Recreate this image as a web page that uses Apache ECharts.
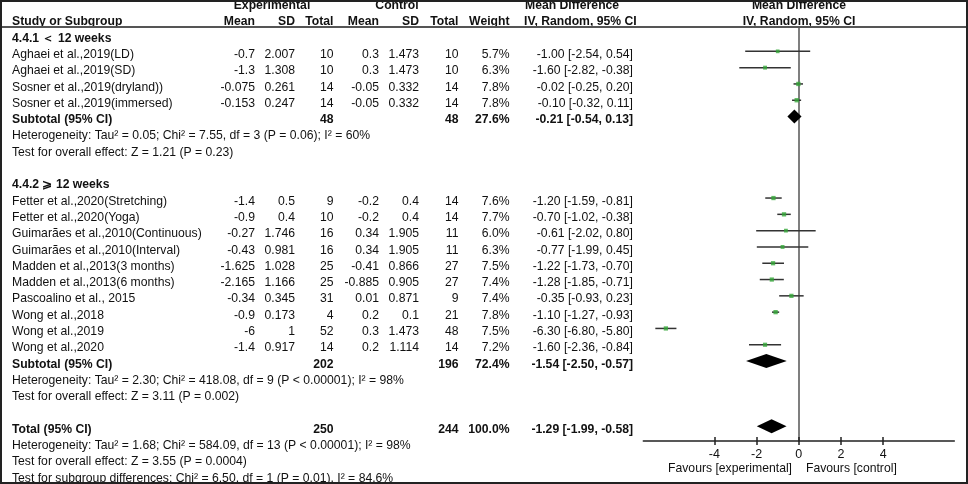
<!DOCTYPE html>
<html>
<head>
<meta charset="utf-8" />
<title>Forest plot</title>
<style>
    html, body { margin: 0; padding: 0; background: #fff; }
    #main { width: 968px; height: 484px; }
</style>
</head>
<body>
<div id="main"></div>
<script src="https://cdn.jsdelivr.net/npm/echarts@6/dist/echarts.min.js"></script>
<script type="text/javascript">
    // study data
    var studies = [
        'Aghaei et al.,2019(LD)', 'Aghaei et al.,2019(SD)', 'Sosner et al.,2019(dryland))', 'Sosner et al.,2019(immersed)',
        'Fetter et al.,2020(Stretching)', 'Fetter et al.,2020(Yoga)', 'Guimarães et al.,2010(Continuous)',
        'Guimarães et al.,2010(Interval)', 'Madden et al.,2013(3 months)', 'Madden et al.,2013(6 months)',
        'Pascoalino et al., 2015', 'Wong et al.,2018', 'Wong et al.,2019', 'Wong et al.,2020'
    ];
    var studyRows = [1, 2, 3, 4, 10, 11, 12, 13, 14, 15, 16, 17, 18, 19];
    var expMean = [-0.7, -1.3, -0.075, -0.153, -1.4, -0.9, -0.27, -0.43, -1.625, -2.165, -0.34, -0.9, -6, -1.4];
    var expSD = [2.007, 1.308, 0.261, 0.247, 0.5, 0.4, 1.746, 0.981, 1.028, 1.166, 0.345, 0.173, 1, 0.917];
    var expN = [10, 10, 14, 14, 9, 10, 16, 16, 25, 25, 31, 4, 52, 14];
    var ctlMean = [0.3, 0.3, -0.05, -0.05, -0.2, -0.2, 0.34, 0.34, -0.41, -0.885, 0.01, 0.2, 0.3, 0.2];
    var ctlSD = [1.473, 1.473, 0.332, 0.332, 0.4, 0.4, 1.905, 1.905, 0.866, 0.905, 0.871, 0.1, 1.473, 1.114];
    var ctlN = [10, 10, 14, 14, 14, 14, 11, 11, 27, 27, 9, 21, 48, 14];
    var weights = [5.7, 6.3, 7.8, 7.8, 7.6, 7.7, 6.0, 6.3, 7.5, 7.4, 7.4, 7.8, 7.5, 7.2];
    var md = [-1.00, -1.60, -0.02, -0.10, -1.20, -0.70, -0.61, -0.77, -1.22, -1.28, -0.35, -1.10, -6.30, -1.60];
    var ciLo = [-2.54, -2.82, -0.25, -0.32, -1.59, -1.02, -2.02, -1.99, -1.73, -1.85, -0.93, -1.27, -6.80, -2.36];
    var ciHi = [0.54, -0.38, 0.20, 0.11, -0.81, -0.38, 0.80, 0.45, -0.70, -0.71, 0.23, -0.93, -5.80, -0.84];

    // pooled rows
    var sumNames = ['Subtotal (95% CI)', 'Subtotal (95% CI)', 'Total (95% CI)'];
    var sumRows = [5, 20, 24];
    var sumExpN = [48, 202, 250];
    var sumCtlN = [48, 196, 244];
    var sumWeight = [27.6, 72.4, 100.0];
    var sumMd = [-0.21, -1.54, -1.29];
    var sumLo = [-0.54, -2.50, -1.99];
    var sumHi = [0.13, -0.57, -0.58];

    // headings and notes
    var groupTitles = ['4.4.1 ＜ 12 weeks', '4.4.2 ⩾ 12 weeks'];
    var groupRows = [0, 9];
    var notes = [
        'Heterogeneity: Tau² = 0.05; Chi² = 7.55, df = 3 (P = 0.06); I² = 60%',
        'Test for overall effect: Z = 1.21 (P = 0.23)',
        'Heterogeneity: Tau² = 2.30; Chi² = 418.08, df = 9 (P < 0.00001); I² = 98%',
        'Test for overall effect: Z = 3.11 (P = 0.002)',
        'Heterogeneity: Tau² = 1.68; Chi² = 584.09, df = 13 (P < 0.00001); I² = 98%',
        'Test for overall effect: Z = 3.55 (P = 0.0004)',
        'Test for subgroup differences: Chi² = 6.50, df = 1 (P = 0.01), I² = 84.6%'
    ];
    var noteRows = [6, 7, 21, 22, 25, 26, 27];
    var tickVals = [-4, -2, 0, 2, 4];
    var favLeft = 'Favours [experimental]';
    var favRight = 'Favours [control]';

    // layout: row i sits at ROW_Y0 + i * ROW_H pixels
    var W = 968, H = 484;
    var ROW_Y0 = 38.3, ROW_H = 16.3;
    function rowAt(py) { return (py - ROW_Y0) / ROW_H; }
    var PLOT_L = 643.3, PLOT_R = 954.3, PLOT_T = 27, PLOT_B = 441;
    var X_MAX = 7.37;
    var MARK_SHIFT = -0.2;
    var FONT = '"Liberation Sans", Arial, sans-serif';
    var FS = '12.2px ';

    var COL = { name: 12, expMean: 255, expSD: 295, expN: 333.5, ctlMean: 379, ctlSD: 419, ctlN: 458.5, weight: 509.5, ci: 633 };

    function ciText(m, lo, hi) {
        return m.toFixed(2) + ' [' + lo.toFixed(2) + ', ' + hi.toFixed(2) + ']';
    }

    var cells = [];
    function cell(x, row, text, align, bold) {
        cells.push({ x: x, row: row, text: text, align: align, bold: bold });
    }

    // header
    cell(272, -2, 'Experimental', 'center', true);
    cell(397, -2, 'Control', 'center', true);
    cell(525, -2, 'Mean Difference', 'left', true);
    cell(799, -2, 'Mean Difference', 'center', true);
    cell(COL.name, -1, 'Study or Subgroup', 'left', true);
    cell(COL.expMean, -1, 'Mean', 'right', true);
    cell(COL.expSD, -1, 'SD', 'right', true);
    cell(COL.expN, -1, 'Total', 'right', true);
    cell(COL.ctlMean, -1, 'Mean', 'right', true);
    cell(COL.ctlSD, -1, 'SD', 'right', true);
    cell(COL.ctlN, -1, 'Total', 'right', true);
    cell(COL.weight, -1, 'Weight', 'right', true);
    cell(524, -1, 'IV, Random, 95% CI', 'left', true);
    cell(799, -1, 'IV, Random, 95% CI', 'center', true);

    groupTitles.forEach(function (t, i) { cell(COL.name, groupRows[i], t, 'left', true); });
    notes.forEach(function (t, i) { cell(COL.name, noteRows[i], t, 'left', false); });

    studies.forEach(function (s, i) {
        var r = studyRows[i];
        cell(COL.name, r, s, 'left', false);
        cell(COL.expMean, r, String(expMean[i]), 'right', false);
        cell(COL.expSD, r, String(expSD[i]), 'right', false);
        cell(COL.expN, r, String(expN[i]), 'right', false);
        cell(COL.ctlMean, r, String(ctlMean[i]), 'right', false);
        cell(COL.ctlSD, r, String(ctlSD[i]), 'right', false);
        cell(COL.ctlN, r, String(ctlN[i]), 'right', false);
        cell(COL.weight, r, weights[i].toFixed(1) + '%', 'right', false);
        cell(COL.ci, r, ciText(md[i], ciLo[i], ciHi[i]), 'right', false);
    });

    sumNames.forEach(function (s, i) {
        var r = sumRows[i];
        cell(COL.name, r, s, 'left', true);
        cell(COL.expN, r, String(sumExpN[i]), 'right', true);
        cell(COL.ctlN, r, String(sumCtlN[i]), 'right', true);
        cell(COL.weight, r, sumWeight[i].toFixed(1) + '%', 'right', true);
        cell(COL.ci, r, ciText(sumMd[i], sumLo[i], sumHi[i]), 'right', true);
    });

    var chartDom = document.getElementById('main');
    var myChart = echarts.init(chartDom, null, { renderer: 'canvas' });
    var option;

    option = {
        animation: false,
        backgroundColor: '#fff',
        grid: [
            { left: 0, top: 0, width: W, height: H },
            { left: PLOT_L, top: PLOT_T, width: PLOT_R - PLOT_L, height: PLOT_B - PLOT_T }
        ],
        xAxis: [
            { gridIndex: 0, type: 'value', min: 0, max: W, show: false },
            {
                gridIndex: 1, type: 'value', min: -X_MAX, max: X_MAX, position: 'bottom',
                axisLine: { onZero: false, lineStyle: { color: '#222', width: 1.5 } },
                axisTick: { customValues: tickVals, length: 4, lineStyle: { color: '#222', width: 1.5 } },
                axisLabel: { customValues: tickVals, margin: 7, color: '#111', fontSize: 12.5, fontFamily: FONT },
                splitLine: { show: false }
            },
            {
                gridIndex: 1, type: 'value', min: -X_MAX, max: X_MAX, position: 'bottom',
                axisLine: { show: false, onZero: false },
                axisTick: { customValues: tickVals, inside: true, length: 4, lineStyle: { color: '#222', width: 1.5 } },
                axisLabel: { show: false },
                splitLine: { show: false }
            }
        ],
        yAxis: [
            { gridIndex: 0, type: 'value', inverse: true, min: rowAt(0), max: rowAt(H), show: false },
            {
                gridIndex: 1, type: 'value', inverse: true, min: rowAt(PLOT_T), max: rowAt(PLOT_B),
                axisLine: { show: true, onZero: true, lineStyle: { color: '#555', width: 1.5 } },
                axisTick: { show: false },
                axisLabel: { show: false },
                splitLine: { show: false }
            }
        ],
        graphic: [
            { type: 'line', shape: { x1: 0, y1: 27, x2: W, y2: 27 }, style: { stroke: '#555', lineWidth: 2 }, z: 10 },
            { type: 'rect', shape: { x: 1, y: 1, width: W - 2, height: H - 2 }, style: { fill: null, stroke: '#222', lineWidth: 2 }, z: 10 },
            { type: 'text', x: 792, y: 469, style: { text: favLeft, align: 'right', verticalAlign: 'middle', font: FS + FONT, fill: '#111' } },
            { type: 'text', x: 806, y: 469, style: { text: favRight, align: 'left', verticalAlign: 'middle', font: FS + FONT, fill: '#111' } }
        ],
        series: [
            {
                name: 'table',
                type: 'custom',
                xAxisIndex: 0,
                yAxisIndex: 0,
                silent: true,
                data: cells.map(function (c) { return [c.x, c.row]; }),
                renderItem: function (params, api) {
                    var it = cells[params.dataIndex];
                    var p = api.coord([it.x, it.row]);
                    return {
                        type: 'text',
                        x: p[0],
                        y: p[1],
                        style: {
                            text: it.text,
                            align: it.align,
                            verticalAlign: 'middle',
                            font: (it.bold ? 'bold ' : '') + FS + FONT,
                            fill: '#111'
                        }
                    };
                }
            },
            {
                name: 'ci',
                type: 'custom',
                xAxisIndex: 1,
                yAxisIndex: 1,
                silent: true,
                data: studies.map(function (s, i) { return [ciLo[i], ciHi[i], studyRows[i] + MARK_SHIFT]; }),
                renderItem: function (params, api) {
                    var a = api.coord([api.value(0), api.value(2)]);
                    var b = api.coord([api.value(1), api.value(2)]);
                    return {
                        type: 'line',
                        shape: { x1: a[0], y1: a[1], x2: b[0], y2: b[1] },
                        style: { stroke: '#333', lineWidth: 1.5 }
                    };
                }
            },
            {
                name: 'effect',
                type: 'scatter',
                xAxisIndex: 1,
                yAxisIndex: 1,
                silent: true,
                symbol: 'rect',
                symbolSize: function (v, p) { return 2 + weights[p.dataIndex] * 0.3; },
                itemStyle: { color: '#35a838' },
                z: 5,
                data: studies.map(function (s, i) { return [md[i], studyRows[i] + MARK_SHIFT]; })
            },
            {
                name: 'pooled',
                type: 'custom',
                xAxisIndex: 1,
                yAxisIndex: 1,
                silent: true,
                data: sumNames.map(function (s, i) { return [sumMd[i], sumLo[i], sumHi[i], sumRows[i] + MARK_SHIFT]; }),
                renderItem: function (params, api) {
                    var c = api.coord([api.value(0), api.value(3)]);
                    var l = api.coord([api.value(1), api.value(3)]);
                    var r = api.coord([api.value(2), api.value(3)]);
                    return {
                        type: 'polygon',
                        shape: { points: [[l[0], c[1]], [c[0], c[1] - 7], [r[0], c[1]], [c[0], c[1] + 7]] },
                        style: { fill: '#000' }
                    };
                }
            }
        ]
    };

    option && myChart.setOption(option);
</script>
</body>
</html>
